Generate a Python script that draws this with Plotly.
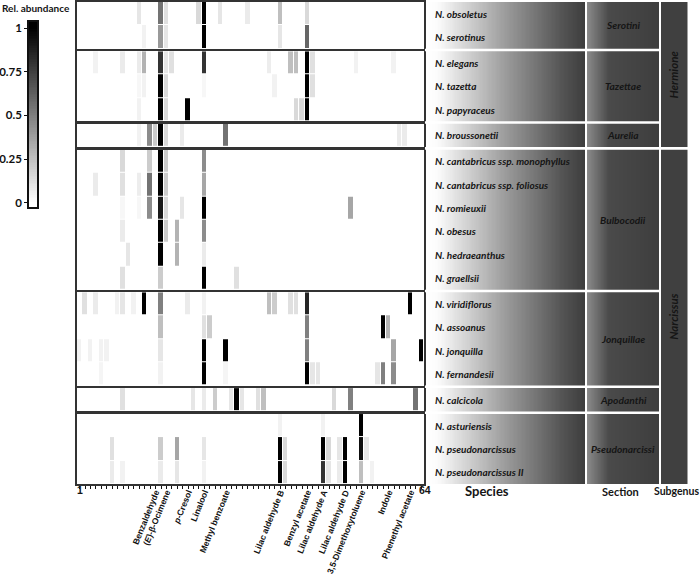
import plotly.graph_objects as go
from plotly.subplots import make_subplots

N_COMPOUNDS = 64

# relative abundance per species, sparse: {compound number: value}
SEROTINI = {
    "N. obsoletus": {12: .10, 16: .55, 17: .12, 23: .15, 24: 1.0, 27: .10, 32: .08, 38: .25, 43: .15},
    "N. serotinus": {13: .05, 16: .40, 17: .10, 24: 1.0, 38: .10, 43: .60},
}
TAZETTAE = {
    "N. elegans": {4: .05, 9: .08, 12: .08, 13: .30, 16: .80, 17: .10, 18: .12, 24: .80, 36: .07,
                   40: .25, 41: .25, 43: 1.0, 44: .12, 52: .05, 59: .05},
    "N. tazetta": {12: .03, 13: .05, 16: 1.0, 17: .15, 24: .03, 37: .05, 43: 1.0, 44: .12},
    "N. papyraceus": {12: .05, 16: 1.0, 17: .15, 21: 1.0, 41: .15, 42: .15, 43: 1.0},
}
AURELIA = {
    "N. broussonetii": {12: .05, 14: .45, 15: .20, 16: 1.0, 17: .15, 20: .08, 28: .55, 60: .08, 61: .08},
}
BULBOCODII = {
    "N. cantabricus ssp. monophyllus": {9: .15, 14: .20, 16: 1.0, 17: .20, 24: .45},
    "N. cantabricus ssp. foliosus": {4: .08, 9: .12, 12: .07, 14: .55, 16: 1.0, 17: .20, 24: .35},
    "N. romieuxii": {9: .03, 12: .03, 14: .45, 16: .90, 17: .15, 20: .10, 24: 1.0, 51: .35},
    "N. obesus": {9: .08, 16: 1.0, 17: .20, 19: .30, 24: .45},
    "N. hedraeanthus": {10: .10, 16: 1.0, 19: .30, 24: .08},
    "N. graellsii": {9: .12, 16: .20, 24: 1.0, 30: .12},
}
JONQUILLAE = {
    "N. viridiflorus": {2: .12, 4: .08, 8: .05, 9: .10, 11: .05, 13: 1.0, 16: .50, 21: .08, 24: .05,
                        36: .25, 37: .20, 40: .12, 41: .12, 43: .85, 62: 1.0},
    "N. assoanus": {16: .25, 24: .12, 25: .20, 43: .50, 57: 1.0, 58: .30},
    "N. jonquilla": {1: .05, 3: .05, 5: .05, 6: .05, 16: .10, 24: 1.0, 28: 1.0, 43: .50, 59: .35, 64: 1.0},
    "N. fernandesii": {5: .04, 16: .05, 24: 1.0, 28: .04, 43: 1.0, 44: .10, 45: .10, 56: .10, 57: .50, 59: .45},
}
APODANTHI = {
    "N. calcicola": {9: .12, 22: .10, 24: .08, 26: .20, 29: .10, 30: 1.0, 31: .10, 34: .12, 35: .25,
                     48: .15, 51: .50, 63: .55},
}
PSEUDONARCISSI = {
    "N. asturiensis": {38: .05, 46: .05, 53: 1.0},
    "N. pseudonarcissus": {7: .12, 16: .20, 19: .35, 24: .10, 38: 1.0, 39: .15, 46: 1.0, 47: .15,
                           49: .10, 50: 1.0, 53: .95, 54: .10},
    "N. pseudonarcissus II": {7: .08, 9: .05, 16: .08, 19: .10, 24: .05, 38: 1.0, 39: .15, 46: .80,
                              47: .10, 49: .08, 50: 1.0, 53: .25, 55: .05},
}

SECTIONS = [
    ("Serotini", SEROTINI), ("Tazettae", TAZETTAE), ("Aurelia", AURELIA),
    ("Bulbocodii", BULBOCODII), ("Jonquillae", JONQUILLAE), ("Apodanthi", APODANTHI),
    ("Pseudonarcissi", PSEUDONARCISSI),
]
SUBGENERA = [("Hermione", 0, 2), ("Narcissus", 3, 6)]  # first / last section index

LABEL_COLS = [15, 17, 21, 24, 28, 38, 43, 46, 50, 53, 58, 62]
LABEL_TEXT = ["Benzaldehyde", "(<i>E</i>)-β-Ocimene", "<i>p</i>-Cresol", "Linalool", "Methyl benzoate",
              "Lilac aldehyde B", "Benzyl acetate", "Lilac aldehyde A", "Lilac aldehyde D",
              "3,5-Dimethoxytoluene", "Indole", "Phenethyl acetate"]

LEGEND_TICKS = [0, 0.25, 0.5, 0.75, 1]

# page geometry (pixels)
W, HT = 700, 581
TOP, BOT = 2, 97
H = HT - TOP - BOT
BORDER = "#333333"
LABEL_FONT = "Lato"
TICK_FONT = "Liberation Sans"


def px(x):
    return x / W


def py(y):
    return (HT - BOT - y) / H


def note(text, x, y, size, xref="paper", yref="paper", xanchor="center", angle=0, family=LABEL_FONT):
    return dict(text=text, x=x, y=y, xref=xref, yref=yref, xanchor=xanchor, yanchor="middle",
                showarrow=False, textangle=angle,
                font=dict(family=family, size=size, color="#151515"))


counts = [len(d) for _, d in SECTIONS]
fig = make_subplots(rows=len(SECTIONS), cols=1, shared_xaxes=True,
                    row_heights=counts, vertical_spacing=2.6 / H)

cols = list(range(1, N_COMPOUNDS + 1))
for i, (sect, data) in enumerate(SECTIONS, start=1):
    z = [[vals.get(c, 0) for c in cols] for vals in data.values()]
    fig.add_trace(go.Heatmap(z=z, x=cols, y=list(range(len(data))), coloraxis="coloraxis",
                             xgap=1, ygap=1, hoverinfo="skip"), row=i, col=1)
    fig.update_yaxes(range=[len(data) - 0.5, -0.5], showticklabels=False, ticks="",
                     showgrid=False, zeroline=False, showline=True, mirror=True,
                     linecolor=BORDER, linewidth=2, automargin=False, row=i, col=1)

fig.update_xaxes(range=[0.5, N_COMPOUNDS + 0.5], domain=[px(77), px(424)], showgrid=False,
                 zeroline=False, showline=True, mirror=True, linecolor=BORDER, linewidth=2,
                 automargin=False)
fig.update_xaxes(tickmode="array", tickvals=LABEL_COLS, ticktext=LABEL_TEXT, tickangle=-68,
                 ticks="outside", ticklen=3, tickcolor="#111", tickwidth=1, ticklabelstandoff=-5,
                 tickfont=dict(family=TICK_FONT, size=8.6, color="#111", weight="bold"),
                 minor=dict(tickmode="linear", tick0=1, dtick=1, ticks="outside", ticklen=3,
                            tickcolor="#111", tickwidth=1),
                 row=len(SECTIONS), col=1)

dom = []
for i in range(1, len(SECTIONS) + 1):
    key = "yaxis" if i == 1 else f"yaxis{i}"
    dom.append(tuple(fig.layout[key].domain))

# gradient panels behind species and section names
ngr = 120
grad = [[k / (ngr - 1) for k in range(ngr)]]
fig.add_trace(go.Heatmap(z=grad, xaxis="x8", yaxis="y8", showscale=False, hoverinfo="skip",
                         colorscale=[[0, "#ffffff"], [0.06, "#fbfbfb"], [0.5, "#9a9a9a"],
                                     [0.85, "#555555"], [1, "#3e3e3e"]]))
fig.add_trace(go.Heatmap(z=grad, xaxis="x9", yaxis="y9", showscale=False, hoverinfo="skip",
                         colorscale=[[0, "#8a8a8a"], [0.3, "#4a4a4a"], [1, "#3e3e3e"]]))

# legend bar
levels = [k / 100 for k in range(-2, 104)]
fig.add_trace(go.Heatmap(z=[[min(max(v, 0), 1)] for v in levels], y=levels, x=[0],
                         xaxis="x10", yaxis="y10", showscale=False, hoverinfo="skip",
                         colorscale=[[0, "#ffffff"], [1, "#000000"]], zmin=0, zmax=1))

hidden = dict(visible=False, showgrid=False, zeroline=False, automargin=False)
fig.update_layout(
    xaxis8=dict(domain=[px(428), px(585)], range=[-0.5, ngr - 0.5], anchor="y8", **hidden),
    yaxis8=dict(domain=[0, 1], range=[-0.5, 0.5], anchor="x8", **hidden),
    xaxis9=dict(domain=[px(587), px(659)], range=[-0.5, ngr - 0.5], anchor="y9", **hidden),
    yaxis9=dict(domain=[0, 1], range=[-0.5, 0.5], anchor="x9", **hidden),
    xaxis10=dict(domain=[px(29), px(37)], range=[-0.5, 0.5], anchor="y10", showgrid=False,
                 zeroline=False, showticklabels=False, showline=True, mirror=True,
                 linecolor="#111", linewidth=1.5, automargin=False),
    yaxis10=dict(domain=[py(207), py(22)], range=[levels[0] - 0.005, levels[-1] + 0.005],
                 anchor="x10", showgrid=False, zeroline=False, showline=True, mirror=True,
                 linecolor="#111", linewidth=1.5, tickmode="array", tickvals=LEGEND_TICKS,
                 ticktext=[f"{v:g}" for v in LEGEND_TICKS], ticks="outside", ticklen=3,
                 tickcolor="#111", automargin=False,
                 tickfont=dict(family=LABEL_FONT, size=11.5, color="#111", weight="bold")),
)

shapes = []
annotations = []
# white separators between sections on the right panel
for k in range(len(SECTIONS) - 1):
    shapes.append(dict(type="rect", xref="paper", yref="paper", x0=px(425), x1=px(660),
                       y0=dom[k + 1][1], y1=dom[k][0], fillcolor="white", line_width=0))

# subgenus blocks
for name, a, b in SUBGENERA:
    y1 = 1 if a == 0 else dom[a][1]
    y0 = 0 if b == len(SECTIONS) - 1 else dom[b][0]
    shapes.append(dict(type="rect", xref="paper", yref="paper", x0=px(661), x1=px(687.5),
                       y0=y0, y1=y1, fillcolor="#404040", line_width=0, layer="below"))
    annotations.append(note(f"<b><i>{name}</i></b>", px(674), (y0 + y1) / 2, 11.5, angle=-90))

for i, (sect, data) in enumerate(SECTIONS, start=1):
    yref = "y" if i == 1 else f"y{i}"
    for j, sp in enumerate(data):
        annotations.append(note(f"<b><i>{sp}</i></b>", px(433), j, 10, yref=yref, xanchor="left"))
    d0, d1 = dom[i - 1]
    annotations.append(note(f"<b><i>{sect}</i></b>", px(623), (d0 + d1) / 2, 10.2))

annotations.append(note("<b>1</b>", 1, py(490), 10.5, xref=f"x{len(SECTIONS)}", family=TICK_FONT))
annotations.append(note("<b>64</b>", px(425), py(490), 10.5, family=TICK_FONT))

for txt, x, size in (("Species", 487, 13), ("Section", 620, 11), ("Subgenus", 676, 10.5)):
    annotations.append(note(f"<b>{txt}</b>", px(x), py(491), size))

annotations.append(note("<b>Rel. abundance</b>", 0, py(8), 10, xanchor="left"))

fig.update_layout(
    width=W, height=HT,
    margin=dict(l=0, r=0, t=TOP, b=BOT),
    paper_bgcolor="white", plot_bgcolor="white",
    coloraxis=dict(colorscale=[[0, "#ffffff"], [1, "#000000"]], cmin=0, cmax=1, showscale=False),
    showlegend=False,
    shapes=shapes,
    annotations=annotations,
)

fig.write_html("out.html", config={"displayModeBar": False},
               post_script="document.body.style.margin='0';")
